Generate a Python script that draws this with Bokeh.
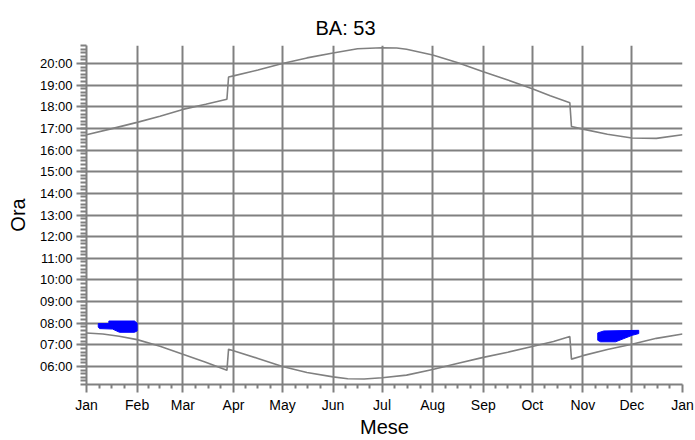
from bokeh.plotting import figure
from bokeh.models import FixedTicker, Range1d
from bokeh.embed import file_html
from bokeh.resources import INLINE

# ---- data (day of year, hours) ----
month_labels = ["Jan", "Feb", "Mar", "Apr", "May", "Jun", "Jul", "Aug",
                "Sep", "Oct", "Nov", "Dec", "Jan"]
month_start_days = [0, 31, 59, 90, 120, 151, 181, 212, 243, 273, 304, 334, 365]
hour_ticks = list(range(6, 21))
hour_labels = [f"{h:02d}:00" for h in hour_ticks]

sunset_days = [0, 15, 31, 45, 59, 73, 86, 87, 90, 105, 120, 135, 151, 166,
               181, 190, 196, 212, 227, 243, 258, 273, 284, 296, 297, 304,
               319, 334, 349, 365]
sunset_hours = [16.71, 16.98, 17.28, 17.56, 17.88, 18.12, 18.35, 19.38, 19.43,
                19.70, 20.00, 20.26, 20.49, 20.68, 20.73, 20.72, 20.66, 20.39,
                20.05, 19.62, 19.24, 18.84, 18.51, 18.19, 17.09, 16.97,
                16.73, 16.56, 16.54, 16.71]

sunrise_days = [0, 10, 20, 31, 45, 59, 73, 86, 87, 90, 105, 120, 135, 151,
                160, 170, 181, 196, 212, 227, 243, 258, 273, 286, 296, 297,
                304, 319, 334, 349, 365]
sunrise_hours = [7.55, 7.50, 7.40, 7.24, 6.93, 6.57, 6.20, 5.82, 6.80, 6.73,
                 6.37, 6.00, 5.72, 5.52, 5.43, 5.42, 5.48, 5.60, 5.86, 6.14,
                 6.42, 6.66, 6.92, 7.15, 7.38, 6.34, 6.50, 6.78, 7.03, 7.30,
                 7.50]

shade1_days = [7.2, 13.7, 13.7, 29.4, 31.0, 31.0, 29.4, 20.2, 15.9, 8.0, 7.2]
shade1_hours = [7.98, 7.98, 8.10, 8.10, 8.00, 7.64, 7.58, 7.58, 7.73, 7.75, 7.82]

shade2_days = [313.1, 316.8, 338.2, 338.2, 334.2, 329.1, 324.0, 314.8, 313.1]
shade2_hours = [7.55, 7.64, 7.67, 7.52, 7.44, 7.29, 7.14, 7.14, 7.21]

title_text = "BA: 53"
x_title = "Mese"
y_title = "Ora"

# ---- figure ----
GRAY = "#808080"
FONT = "Liberation Sans"

p = figure(width=695, height=440,
           x_range=Range1d(0, 365), y_range=Range1d(5 + 10 / 60, 20 + 50 / 60),
           output_backend="svg", toolbar_location=None,
           min_border_left=86, min_border_right=13,
           min_border_top=45, min_border_bottom=52)
p.outline_line_color = None
p.background_fill_color = "white"
p.border_fill_color = "white"

# title
p.title.text = title_text
p.title.align = "left"
p.title.offset = 229
p.title.standoff = 13
p.title.text_font = FONT
p.title.text_font_size = "20px"
p.title.text_font_style = "normal"
p.title.text_color = "black"

# ticks
minor_x = []
for s, e in zip(month_start_days[:-1], month_start_days[1:]):
    minor_x += [s + k * (e - s) / 4 for k in range(1, 4)]
minor_y = [h + m / 60 for h in range(5, 21) for m in range(0, 60, 10)
           if 5 + 10 / 60 - 1e-6 <= h + m / 60 <= 20 + 50 / 60 + 1e-6]

xticker = FixedTicker(ticks=month_start_days, minor_ticks=minor_x)
yticker = FixedTicker(ticks=hour_ticks, minor_ticks=minor_y)

p.xaxis.ticker = xticker
p.yaxis.ticker = yticker
p.xgrid.ticker = xticker
p.ygrid.ticker = yticker

p.xaxis.major_label_overrides = {d: m for d, m in zip(month_start_days, month_labels)}
p.yaxis.major_label_overrides = {h: l for h, l in zip(hour_ticks, hour_labels)}

for g in (p.xgrid, p.ygrid):
    g.grid_line_color = GRAY
    g.grid_line_width = 2

for ax in (p.xaxis, p.yaxis):
    ax.axis_line_color = GRAY
    ax.axis_line_width = 2
    ax.major_tick_line_color = GRAY
    ax.major_tick_line_width = 2
    ax.minor_tick_line_color = GRAY
    ax.minor_tick_line_width = 2
    ax.major_tick_in = 0
    ax.minor_tick_in = 0
    ax.major_label_text_font = FONT
    ax.major_label_text_color = "black"
    ax.axis_label_text_font = FONT
    ax.axis_label_text_font_style = "normal"
    ax.axis_label_text_color = "black"
    ax.axis_label_text_font_size = "20px"

p.xaxis.major_tick_out = 8
p.xaxis.minor_tick_out = 4
p.xaxis.major_label_standoff = 4
p.xaxis.major_label_text_font_size = "14px"
p.xaxis.axis_label = x_title
p.xaxis.axis_label_standoff = 0

p.yaxis.major_tick_out = 10
p.yaxis.minor_tick_out = 6
p.yaxis.major_label_standoff = 4
p.yaxis.major_label_text_font_size = "13px"
p.yaxis.axis_label = y_title
p.yaxis.axis_label_standoff = 8

# ---- data glyphs ----
p.line(sunset_days, sunset_hours, line_color=GRAY, line_width=1.6)
p.line(sunrise_days, sunrise_hours, line_color=GRAY, line_width=1.6)
p.patch(shade1_days, shade1_hours, fill_color="#0000ff", line_color="#0000ff", line_width=1)
p.patch(shade2_days, shade2_hours, fill_color="#0000ff", line_color="#0000ff", line_width=1)

open("out.html", "w").write(file_html(p, INLINE))
